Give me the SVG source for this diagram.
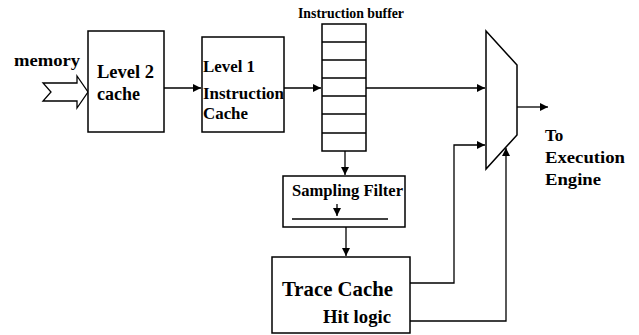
<svg xmlns="http://www.w3.org/2000/svg" width="639" height="335" viewBox="0 0 639 335">
<style>
.box{fill:#fff;stroke:#000;stroke-width:1.5}
.ln{fill:none;stroke:#000;stroke-width:1.3}
text{font-family:"Liberation Serif","Times New Roman",serif;font-weight:bold;fill:#000}
</style>
<defs>
<marker id="ah" viewBox="0 0 10 10" refX="10" refY="5" markerWidth="8" markerHeight="8" markerUnits="userSpaceOnUse" orient="auto">
<path d="M0,0 L10,5 L0,10 Z" fill="#000"/>
</marker>
</defs>
<rect width="639" height="335" fill="#fff"/>
<g id="memory">
<text x="14" y="66" font-size="17" textLength="66" lengthAdjust="spacingAndGlyphs">memory</text>
<path class="ln" d="M43,83 L77,83 L77,76 L88,92 L77,108 L77,101 L43,101 L51,92 Z"/>
</g>
<g id="level2">
<rect class="box" x="88" y="31" width="76" height="101"/>
<text x="97" y="78" font-size="18" textLength="57" lengthAdjust="spacingAndGlyphs">Level 2</text>
<text x="97" y="100" font-size="18" textLength="43" lengthAdjust="spacingAndGlyphs">cache</text>
</g>
<g id="level1">
<rect class="box" x="202" y="37" width="82" height="95"/>
<text x="203" y="72" font-size="16" textLength="52" lengthAdjust="spacingAndGlyphs">Level 1</text>
<text x="203" y="99" font-size="16" textLength="81" lengthAdjust="spacingAndGlyphs">Instruction</text>
<text x="203" y="119" font-size="16" textLength="45" lengthAdjust="spacingAndGlyphs">Cache</text>
</g>
<g id="buffer">
<text x="298" y="18" font-size="14" textLength="106" lengthAdjust="spacingAndGlyphs">Instruction buffer</text>
<rect class="box" x="322" y="24" width="44" height="127"/>
<path class="ln" d="M322,42 H366 M322,60 H366 M322,78 H366 M322,96 H366 M322,114 H366 M322,133 H366"/>
</g>
<g id="mux">
<polygon class="box" points="486,31 517,65 517,135 486,169"/>
</g>
<g id="sampling">
<rect class="box" x="283" y="176" width="122" height="51"/>
<text x="292" y="196" font-size="16" textLength="111" lengthAdjust="spacingAndGlyphs">Sampling Filter</text>
<path class="ln" d="M337,204 V216" marker-end="url(#ah)"/>
<path class="ln" d="M292,219 H388"/>
</g>
<g id="trace">
<rect class="box" x="272" y="257" width="138" height="76"/>
<text x="282" y="296" font-size="21" textLength="111" lengthAdjust="spacingAndGlyphs">Trace Cache</text>
<text x="323" y="323" font-size="18" textLength="68" lengthAdjust="spacingAndGlyphs">Hit logic</text>
</g>
<g id="output-label">
<text x="545" y="141" font-size="17">To</text>
<text x="545" y="163" font-size="17" textLength="80" lengthAdjust="spacingAndGlyphs">Execution</text>
<text x="545" y="185" font-size="17" textLength="56" lengthAdjust="spacingAndGlyphs">Engine</text>
</g>
<g id="connectors">
<path class="ln" d="M164,88 H201" marker-end="url(#ah)"/>
<path class="ln" d="M284,88 H321" marker-end="url(#ah)"/>
<path class="ln" d="M366,88 H485" marker-end="url(#ah)"/>
<path class="ln" d="M517,107 H548" marker-end="url(#ah)"/>
<path class="ln" d="M345,151 V175" marker-end="url(#ah)"/>
<path class="ln" d="M346,227 V256" marker-end="url(#ah)"/>
<path class="ln" d="M410,283 H454 V145 H485" marker-end="url(#ah)"/>
<path class="ln" d="M410,321 H506 V148" marker-end="url(#ah)"/>
</g>
</svg>
